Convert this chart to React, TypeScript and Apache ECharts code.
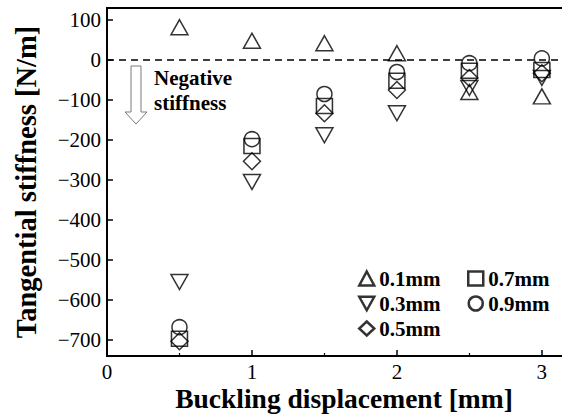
import React, { useEffect, useRef } from "react";
import * as echarts from "echarts";

// Buckling displacement [mm]
const displacement = [0.5, 1, 1.5, 2, 2.5, 3];

// Tangential stiffness [N/m] per sheet thickness
const stiff01 = [82, 48, 42, 17, -80, -91];
const stiff03 = [-555, -305, -188, -133, -70, -45];
const stiff05 = [-703, -253, -133, -75, -45, -33];
const stiff07 = [-697, -215, -115, -52, -27, -25];
const stiff09 = [-668, -198, -85, -30, -8, 4];

const seriesNames = ["0.1mm", "0.3mm", "0.5mm", "0.7mm", "0.9mm"];

// Stiffness axis ticks
const stiffTicks = [-700, -600, -500, -400, -300, -200, -100, 0, 100];
// Displacement axis ticks
const dispTicks = [0, 1, 2, 3];
const dispMinorTicks = [0.5, 1.5, 2.5];

const SERIF = "'Liberation Serif', 'Times New Roman', serif";

const pair = (vals: number[]) => displacement.map((x, i) => [x, vals[i]]);

const toMinus = (v: number) => String(v).replace("-", "\u2212");

const DOWN_TRIANGLE = "path://M0,0 L20,0 L10,18 Z";

export default function App() {
  const ref = useRef<HTMLDivElement>(null);

  useEffect(() => {
    if (!ref.current) return;
    const chart = echarts.init(ref.current, undefined, { renderer: "svg" });

    const baseStyle = {
      color: "rgba(0,0,0,0)",
      borderColor: "#000",
      borderWidth: 1.5,
    };

    const mk = (
      name: string,
      vals: number[],
      symbol: string,
      size: number | number[],
      extra: any = {}
    ) => ({
      type: "scatter",
      name,
      data: pair(vals),
      symbol,
      symbolSize: size,
      itemStyle: baseStyle,
      emphasis: { disabled: true },
      z: 3,
      ...extra,
    });

    const legendText = {
      fontFamily: SERIF,
      fontWeight: "bold",
      fontSize: 21,
      lineHeight: 21,
      color: "#000",
    };

    const legendBase = {
      orient: "vertical",
      top: 268,
      padding: 0,
      itemWidth: 15,
      itemHeight: 14,
      itemGap: 4,
      itemStyle: { borderWidth: 2.5, borderColor: "#000" },
      textStyle: legendText,
      selectedMode: false,
    };

    chart.setOption({
      animation: false,
      backgroundColor: "#fff",
      grid: {
        left: 107,
        right: -19,
        top: 8,
        bottom: 58,
        outerBoundsMode: "none",
        containLabel: false,
        show: true,
        borderColor: "#000",
        borderWidth: 1.8,
      },
      xAxis: [
        {
          type: "value",
          min: 0,
          max: 3.27,
          name: "Buckling displacement [mm]",
          nameLocation: "middle",
          nameGap: 28,
          nameMoveOverlap: false,
          nameTextStyle: {
            fontFamily: SERIF,
            fontWeight: "bold",
            fontSize: 27.5,
            color: "#000",
          },
          axisLine: { onZero: false, lineStyle: { color: "#000", width: 1.8 } },
          axisTick: {
            inside: true,
            length: 6,
            customValues: dispTicks,
            lineStyle: { color: "#000", width: 1.5 },
          },
          axisLabel: {
            margin: 5,
            fontFamily: SERIF,
            fontSize: 21,
            color: "#000",
            customValues: dispTicks,
          },
          splitLine: { show: false },
        },
        {
          // short minor ticks at half millimetres
          type: "value",
          position: "bottom",
          min: 0,
          max: 3.27,
          axisLine: { show: false, onZero: false },
          axisTick: {
            inside: true,
            length: 3,
            customValues: dispMinorTicks,
            lineStyle: { color: "#000", width: 1.2 },
          },
          axisLabel: { show: false },
          splitLine: { show: false },
        },
      ],
      yAxis: {
        type: "value",
        min: -740,
        max: 130,
        name: "Tangential stiffness [N/m]",
        nameLocation: "middle",
        nameGap: 66,
        nameMoveOverlap: false,
        nameTextStyle: {
          fontFamily: SERIF,
          fontWeight: "bold",
          fontSize: 28.5,
          color: "#000",
        },
        axisLine: { onZero: false, lineStyle: { color: "#000", width: 1.8 } },
        axisTick: {
          inside: true,
          length: 6,
          customValues: stiffTicks,
          lineStyle: { color: "#000", width: 1.5 },
        },
        axisLabel: {
          margin: 6,
          fontFamily: SERIF,
          fontSize: 21,
          color: "#000",
          customValues: stiffTicks,
          formatter: (v: number) => toMinus(v),
        },
        splitLine: { show: false },
      },
      legend: [
        { ...legendBase, data: ["0.1mm", "0.3mm", "0.5mm"], left: 358 },
        { ...legendBase, data: ["0.7mm", "0.9mm"], left: 467 },
      ],
      series: [
        mk(seriesNames[0], stiff01, "triangle", [17, 15], {
          markLine: {
            silent: true,
            symbol: ["none", "none"],
            label: { show: false },
            lineStyle: { type: [7, 5], color: "#000", width: 1.6 },
            data: [{ yAxis: 0 }],
          },
        }),
        mk(seriesNames[1], stiff03, DOWN_TRIANGLE, [17, 15]),
        mk(seriesNames[2], stiff05, "diamond", [17, 17]),
        mk(seriesNames[3], stiff07, "rect", [16, 15]),
        mk(seriesNames[4], stiff09, "circle", 15),
      ],
      graphic: [
        {
          type: "polygon",
          shape: {
            points: [
              [131, 66],
              [141, 66],
              [141, 112],
              [147, 112],
              [136, 124],
              [125, 112],
              [131, 112],
            ],
          },
          style: { fill: "#fff", stroke: "#7a7a7a", lineWidth: 1 },
          z: 10,
        },
        {
          type: "text",
          x: 154,
          y: 78,
          style: {
            text: "Negative",
            fontFamily: SERIF,
            fontWeight: "bold",
            fontSize: 21,
            fill: "#000",
            verticalAlign: "middle",
          },
          z: 10,
        },
        {
          type: "text",
          x: 154,
          y: 103,
          style: {
            text: "stiffness",
            fontFamily: SERIF,
            fontWeight: "bold",
            fontSize: 21,
            fill: "#000",
            verticalAlign: "middle",
          },
          z: 10,
        },
      ],
    });

    return () => chart.dispose();
  }, []);

  return (
    <div
      ref={ref}
      style={{ position: "absolute", left: 0, top: 0, width: 562, height: 414 }}
    />
  );
}
